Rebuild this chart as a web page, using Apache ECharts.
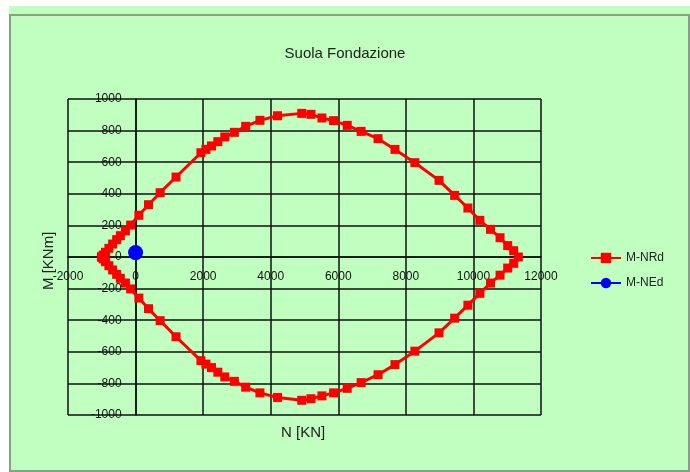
<!DOCTYPE html>
<html>
<head>
<meta charset="utf-8">
<script src="https://cdn.jsdelivr.net/npm/echarts@6/dist/echarts.min.js"></script>
<style>
  html, body { margin: 0; padding: 0; background: #ffffff; }
  #bg { position: absolute; left: 9px; top: 6px; width: 681px; height: 466px; background: #c0ffc0; }
  #frame { position: absolute; left: 9px; top: 14px; width: 677px; height: 454px; border: 2px solid #8c9c8a; }
  #chart { position: absolute; left: 0; top: 0; width: 690px; height: 472px; }
</style>
</head>
<body>
<div id="bg"></div>
<div id="frame"></div>
<div id="chart"></div>
<script>
// Interaction domain M-N of the footing section (upper branch, left tip -> right tip)
const nUpper = [-1010, -960, -890, -790, -680, -560, -450, -300, -147, 97, 383, 727, 1198, 1934, 2082, 2248, 2435, 2641, 2925, 3260, 3681, 4202, 4918, 5192, 5516, 5861, 6264, 6676, 7177, 7678, 8267, 8982, 9444, 9836, 10190, 10505, 10788, 11014, 11191, 11330];
const mUpper = [0, 12, 30, 55, 82, 110, 135, 165, 202, 264, 331, 407, 506, 660, 681, 703, 730, 760, 789, 827, 865, 894, 909, 903, 880, 863, 833, 795, 749, 681, 597, 485, 390, 310, 232, 175, 122, 72, 40, 0];
// Lower branch, right tip -> left tip
const nLower = [11191, 11014, 10788, 10505, 10190, 9836, 9444, 8982, 8267, 7678, 7177, 6676, 6264, 5861, 5516, 5192, 4918, 4202, 3681, 3260, 2925, 2641, 2435, 2248, 2082, 1934, 1198, 727, 383, 97, -147, -300, -450, -560, -680, -790, -890, -960, -1010];
const mLower = [-40, -70, -115, -165, -230, -305, -387, -480, -596, -681, -745, -795, -831, -860, -879, -897, -907, -889, -860, -824, -787, -759, -729, -700, -678, -656, -505, -403, -327, -260, -202, -165, -135, -110, -82, -55, -30, -12, 0];
// Design action
const nEd = [0];
const mEd = [28];

// Axis ranges
const nMin = -2000, nMax = 12000, nStep = 2000;
const mMin = -1000, mMax = 1000, mStep = 200;

const resistance = nUpper.map((n, i) => [n, mUpper[i]])
  .concat(nLower.map((n, i) => [n, mLower[i]]));
const action = nEd.map((n, i) => [n, mEd[i]]);

const gridLeft = 68, gridTop = 99, gridW = 473, gridH = 316;
// shift both axes so that they cross at N = 0, M = 0
const yAxisShift = -gridW * (0 - nMin) / (nMax - nMin);
const xAxisShift = -gridH * (0 - mMin) / (mMax - mMin);

const gridColor = '#111111';
const plain = v => String(v);
const chart = echarts.init(document.getElementById('chart'), null, { renderer: 'canvas' });
chart.setOption({
  animation: false,
  backgroundColor: 'transparent',
  textStyle: { fontFamily: 'Liberation Sans, Arial, sans-serif' },
  title: {
    text: 'Suola Fondazione',
    left: 'center',
    top: 41,
    textStyle: { fontSize: 15, fontWeight: 'normal', color: '#222222', fontFamily: 'Liberation Sans' }
  },
  grid: { left: gridLeft, top: gridTop, width: gridW, height: gridH },
  legend: {
    orient: 'vertical',
    left: 585,
    top: 247,
    itemWidth: 30,
    itemHeight: 13,
    itemGap: 13,
    textStyle: { fontSize: 12, color: '#222222', fontFamily: 'Liberation Sans' },
    data: ['M-NRd', 'M-NEd']
  },
  xAxis: {
    type: 'value',
    min: nMin, max: nMax, interval: nStep,
    offset: xAxisShift,
    axisLine: { onZero: false, lineStyle: { color: gridColor, width: 1.5 } },
    axisTick: { show: false },
    axisLabel: { margin: 14, fontSize: 12, color: '#111111', fontFamily: 'Liberation Sans', formatter: plain, showMinLabel: true, showMaxLabel: true },
    splitLine: { show: true, lineStyle: { color: gridColor, width: 1.5 } }
  },
  yAxis: {
    type: 'value',
    min: mMin, max: mMax, interval: mStep,
    offset: yAxisShift,
    axisLine: { onZero: false, lineStyle: { color: gridColor, width: 1.5 } },
    axisTick: { show: false },
    axisLabel: { margin: 14, fontSize: 12, color: '#111111', fontFamily: 'Liberation Sans', formatter: plain },
    splitLine: { show: true, lineStyle: { color: gridColor, width: 1.5 } }
  },
  graphic: [
    { type: 'text', left: 281, top: 425, style: { text: 'N [KN]', fontSize: 15, fill: '#222222', fontFamily: 'Liberation Sans' } },
    { type: 'text', x: 41, y: 290, rotation: Math.PI / 2, style: { text: 'M [KNm]', fontSize: 15, fill: '#222222', fontFamily: 'Liberation Sans' } }
  ],
  series: [
    {
      name: 'M-NRd',
      type: 'line',
      data: resistance,
      symbol: 'rect',
      symbolSize: 9,
      lineStyle: { color: '#ff0000', width: 3 },
      itemStyle: { color: '#ff0000' },
      z: 3
    },
    {
      name: 'M-NEd',
      type: 'line',
      data: action,
      symbol: 'circle',
      symbolSize: 15,
      lineStyle: { color: '#0000ff', width: 3 },
      itemStyle: { color: '#0000ff' },
      z: 4
    }
  ]
});
</script>
</body>
</html>
